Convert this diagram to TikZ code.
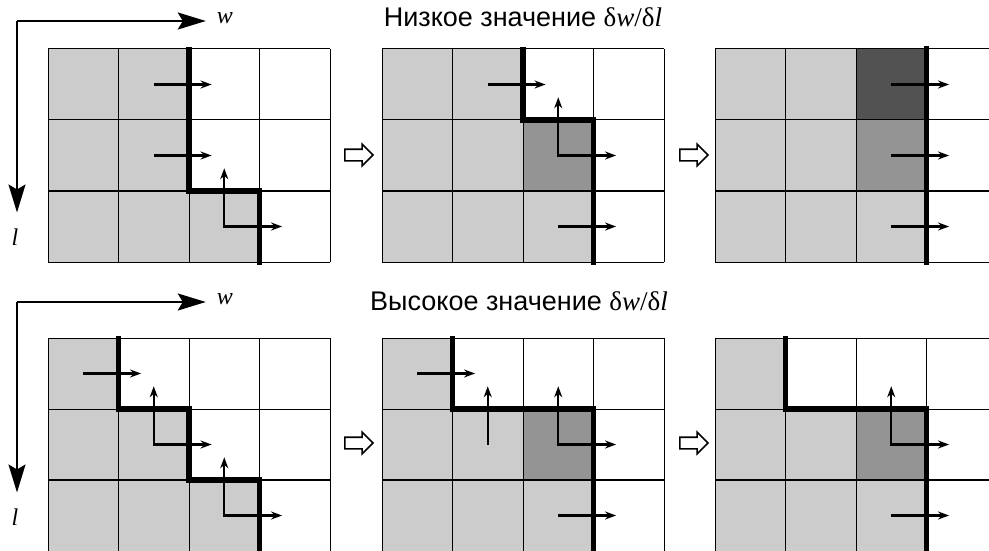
\documentclass[tikz,border=0pt]{standalone}
\usepackage{fontspec}
\setmainfont{Liberation Sans}
\newfontfamily\tms{Liberation Serif}
\usetikzlibrary{arrows.meta,shapes.arrows}
\tikzset{
  lowfill/.style={fill=black!20},
  midfill/.style={fill=black!42},
  darkfill/.style={fill=black!68},
  cellline/.style={line width=1pt},
  rowline/.style={line width=1.8pt},
  edgeline/.style={line width=5.4pt},
  flow/.style={-{Stealth[length=11pt,width=8pt]}, line width=2.2pt},
  turnarr/.style={{Stealth[length=11pt,width=8pt]}-{Stealth[length=11pt,width=8pt]}, line width=2.2pt},
  axis/.style={-{Stealth[length=28pt,width=17pt,inset=5pt]}, line width=2pt},
  axislabel/.style={font=\tms\itshape\fontsize{24}{26}\selectfont, inner sep=0pt},
  titletext/.style={font=\fontsize{27}{32}\selectfont, anchor=base},
  stepto/.style={single arrow, draw, line width=1.6pt, minimum height=28pt,
    single arrow head extend=5pt, inner sep=5pt},
}
\newcommand{\cellframe}{%
  \foreach \c in {0,...,4} \draw[cellline] (\c,0) -- (\c,3);
  \foreach \r in {0,1,3} \draw[cellline] (0,\r) -- (4,\r);
  \draw[rowline] (0,2) -- (4,2);}
\newcommand{\turnflow}[2]{\draw[turnarr] (#1,#2-0.82) -- (#1,#2) -- (#1+0.82,#2);}
\newcommand{\gradflow}{{\tms δ\textit{w}/δ\textit{l}}}

\begin{document}
\begin{tikzpicture}[x=1pt, y=-1pt]
  \clip (0,0) rectangle (989,551);
  \fill[white] (0,0) rectangle (989,551);

  % titles
  \node[titletext] (lowtitle) at (523,27) {Низкое значение \gradflow};
  \node[titletext] (hightitle) at (519,310) {Высокое значение \gradflow};

  % axes
  \coordinate (orig1) at (17,21);
  \node[axislabel] (w1) at (225,18) {w};
  \node[axislabel] (l1) at (15,237) {l};
  \draw[axis] (orig1) -- ([xshift=-11pt]w1.west |- orig1);
  \draw[axis] (orig1) -- ([yshift=16pt]l1.north -| orig1);
  \coordinate (orig2) at (17,302);
  \node[axislabel] (w2) at (225,299) {w};
  \node[axislabel] (l2) at (15,517) {l};
  \draw[axis] (orig2) -- ([xshift=-11pt]w2.west |- orig2);
  \draw[axis] (orig2) -- ([yshift=16pt]l2.north -| orig2);

  % grid corners
  \coordinate (top1) at (48,49);
  \coordinate (top2) at (382,49);
  \coordinate (top3) at (715,49);
  \coordinate (bot1) at (48,338);
  \coordinate (bot2) at (382,338);
  \coordinate (bot3) at (715,338);

  % step arrows
  \node[stepto] (next1) at (356,155) {};
  \node[stepto] (next2) at (691,155) {};
  \node[stepto] (next3) at (356,443) {};
  \node[stepto] (next4) at (691,443) {};

  % low, step 1
  \begin{scope}[shift={(top1)}, x=70.5pt, y=-71pt]
    \fill[lowfill] (0,0) rectangle (2,3);
    \fill[lowfill] (2,2) rectangle (3,3);
    \cellframe
    \draw[edgeline] (2,-0.03) -- (2,2) -- (3,2) -- (3,3.04);
    \draw[flow] (1.5,0.5) -- ++(0.82,0);
    \draw[flow] (1.5,1.5) -- ++(0.82,0);
    \turnflow{2.5}{2.5}
  \end{scope}

  % low, step 2
  \begin{scope}[shift={(top2)}, x=70.5pt, y=-71pt]
    \fill[lowfill] (0,0) rectangle (2,3);
    \fill[lowfill] (2,2) rectangle (3,3);
    \fill[midfill] (2,1) rectangle (3,2);
    \cellframe
    \draw[edgeline] (2,-0.03) -- (2,1) -- (3,1) -- (3,3.04);
    \draw[flow] (1.5,0.5) -- ++(0.82,0);
    \turnflow{2.5}{1.5}
    \draw[flow] (2.5,2.5) -- ++(0.82,0);
  \end{scope}

  % low, step 3
  \begin{scope}[shift={(top3)}, x=70.5pt, y=-71pt]
    \fill[lowfill] (0,0) rectangle (2,3);
    \fill[lowfill] (2,2) rectangle (3,3);
    \fill[midfill] (2,1) rectangle (3,2);
    \fill[darkfill] (2,0) rectangle (3,1);
    \cellframe
    \draw[edgeline] (3,-0.04) -- (3,3.04);
    \draw[flow] (2.5,0.5) -- ++(0.82,0);
    \draw[flow] (2.5,1.5) -- ++(0.82,0);
    \draw[flow] (2.5,2.5) -- ++(0.82,0);
  \end{scope}

  % high, step 1
  \begin{scope}[shift={(bot1)}, x=70.5pt, y=-71pt]
    \fill[lowfill] (0,0) rectangle (1,3);
    \fill[lowfill] (1,1) rectangle (2,3);
    \fill[lowfill] (2,2) rectangle (3,3);
    \cellframe
    \draw[edgeline] (1,-0.03) -- (1,1) -- (2,1) -- (2,2) -- (3,2) -- (3,3.04);
    \draw[flow] (0.5,0.5) -- ++(0.82,0);
    \turnflow{1.5}{1.5}
    \turnflow{2.5}{2.5}
  \end{scope}

  % high, step 2
  \begin{scope}[shift={(bot2)}, x=70.5pt, y=-71pt]
    \fill[lowfill] (0,0) rectangle (1,3);
    \fill[lowfill] (1,1) rectangle (2,3);
    \fill[lowfill] (2,2) rectangle (3,3);
    \fill[midfill] (2,1) rectangle (3,2);
    \cellframe
    \draw[edgeline] (1,-0.03) -- (1,1) -- (3,1) -- (3,3.04);
    \draw[flow] (0.5,0.5) -- ++(0.82,0);
    \draw[flow] (1.5,1.5) -- ++(0,-0.82);
    \turnflow{2.5}{1.5}
    \draw[flow] (2.5,2.5) -- ++(0.82,0);
  \end{scope}

  % high, step 3
  \begin{scope}[shift={(bot3)}, x=70.5pt, y=-71pt]
    \fill[lowfill] (0,0) rectangle (1,3);
    \fill[lowfill] (1,1) rectangle (2,3);
    \fill[lowfill] (2,2) rectangle (3,3);
    \fill[midfill] (2,1) rectangle (3,2);
    \cellframe
    \draw[edgeline] (1,-0.03) -- (1,1) -- (3,1) -- (3,3.04);
    \turnflow{2.5}{1.5}
    \draw[flow] (2.5,2.5) -- ++(0.82,0);
  \end{scope}
\end{tikzpicture}
\end{document}
